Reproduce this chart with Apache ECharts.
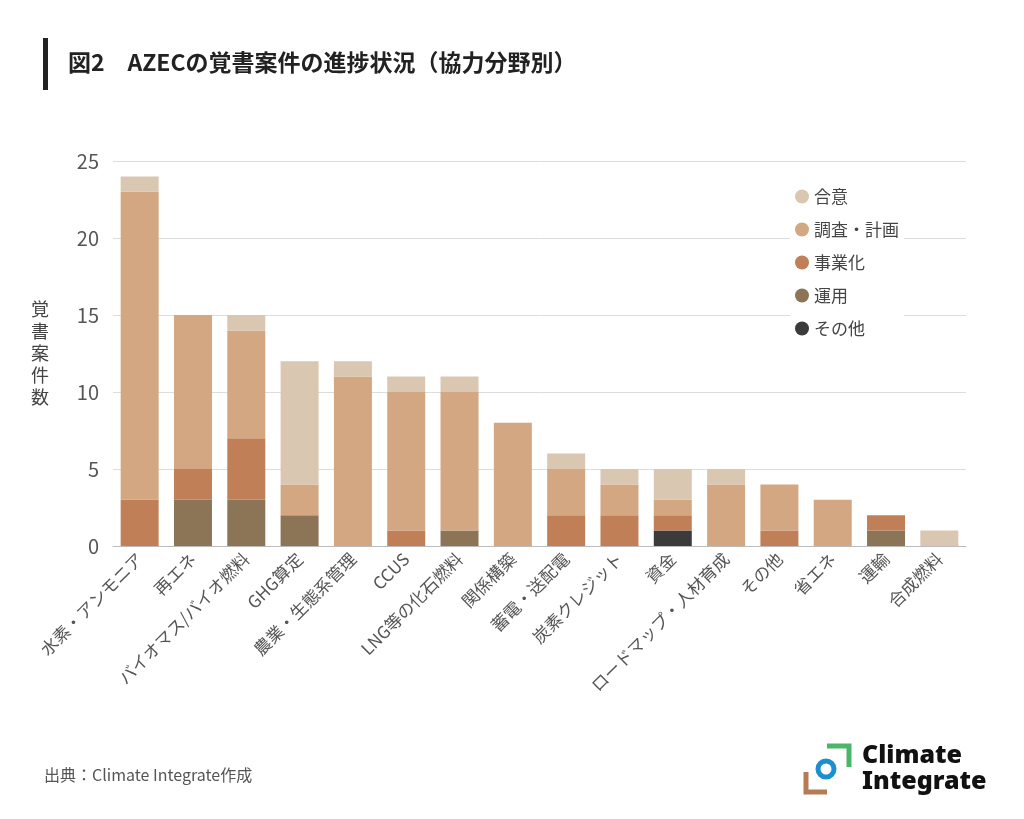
<!DOCTYPE html>
<html><head><meta charset="utf-8">
<script src="https://cdn.jsdelivr.net/npm/echarts@6/dist/echarts.min.js"></script>
<style>body{margin:0;background:#fff}#c{width:1024px;height:819px}</style>
</head><body><div id="c"></div>
<script>
const categories=['水素・アンモニア','再エネ','バイオマス/バイオ燃料','GHG算定','農業・生態系管理','CCUS','LNG等の化石燃料','関係構築','蓄電・送配電','炭素クレジット','資金','ロードマップ・人材育成','その他','省エネ','運輸','合成燃料'];
const other=[0,0,0,0,0,0,0,0,0,0,1,0,0,0,0,0];
const operation=[0,3,3,2,0,0,1,0,0,0,0,0,0,0,1,0];
const commercial=[3,2,4,0,0,1,0,0,2,2,1,0,1,0,1,0];
const research=[20,10,7,2,11,9,9,8,3,2,1,4,3,3,0,0];
const agreement=[1,0,1,8,1,1,1,0,1,1,2,1,0,0,0,1];
const names=['その他','運用','事業化','調査・計画','合意'];
const colors=['#3b3b3b','#8c7457','#c07f56','#d2a782','#dac7b1'];
const data=[other,operation,commercial,research,agreement];
const F='"Noto Sans CJK JP","Noto Sans",sans-serif';
const chart=echarts.init(document.getElementById('c'));
chart.setOption({
 animation:false,
 textStyle:{fontFamily:F},
 grid:{left:113,right:58,top:161,bottom:273},
 legend:{left:790,top:183,orient:'vertical',itemGap:16,icon:'circle',itemWidth:14,itemHeight:14,
   data:names.slice().reverse(),textStyle:{fontSize:17,color:'#444',fontFamily:F},backgroundColor:'#fff'},
 xAxis:{type:'category',data:categories,axisTick:{show:false},axisLine:{lineStyle:{color:'#bbb'}},
   axisLabel:{rotate:45,fontSize:17,color:'#555',interval:0,margin:10}},
 yAxis:{type:'value',min:0,max:25,interval:5,name:'覚\n書\n案\n件\n数',nameLocation:'middle',nameGap:64,nameRotate:0,
   nameTextStyle:{fontSize:18,color:'#444',lineHeight:22},
   axisLabel:{fontSize:20,color:'#555',margin:14},splitLine:{lineStyle:{color:'#ddd'}}},
 series:names.map((n,i)=>({name:n,type:'bar',stack:'a',data:data[i],barWidth:38,itemStyle:{color:colors[i]}})),
 graphic:[
  {type:'rect',left:43,top:38,shape:{width:5,height:52},style:{fill:'#222'}},
  {type:'text',left:68,top:51,style:{text:'図2　AZECの覚書案件の進捗状況（協力分野別）',font:'bold 23px '+F,fill:'#222'}},
  {type:'text',left:44,top:767,style:{text:'出典：Climate Integrate作成',font:'16px '+F,fill:'#555'}},
  {type:'polyline',shape:{points:[[827,746],[849,746],[849,767]]},style:{stroke:'#4bb66a',lineWidth:5,fill:null}},
  {type:'circle',shape:{cx:826,cy:769,r:8},style:{stroke:'#1b8fd0',lineWidth:5,fill:'#fff'}},
  {type:'polyline',shape:{points:[[806,772],[806,792],[827,792]]},style:{stroke:'#b47b55',lineWidth:5,fill:null}},
  {type:'text',left:862,top:743,style:{text:'Climate\nIntegrate',font:'900 25px "Noto Sans",sans-serif',lineHeight:26,fill:'#111'}}
 ]
});
</script></body></html>
